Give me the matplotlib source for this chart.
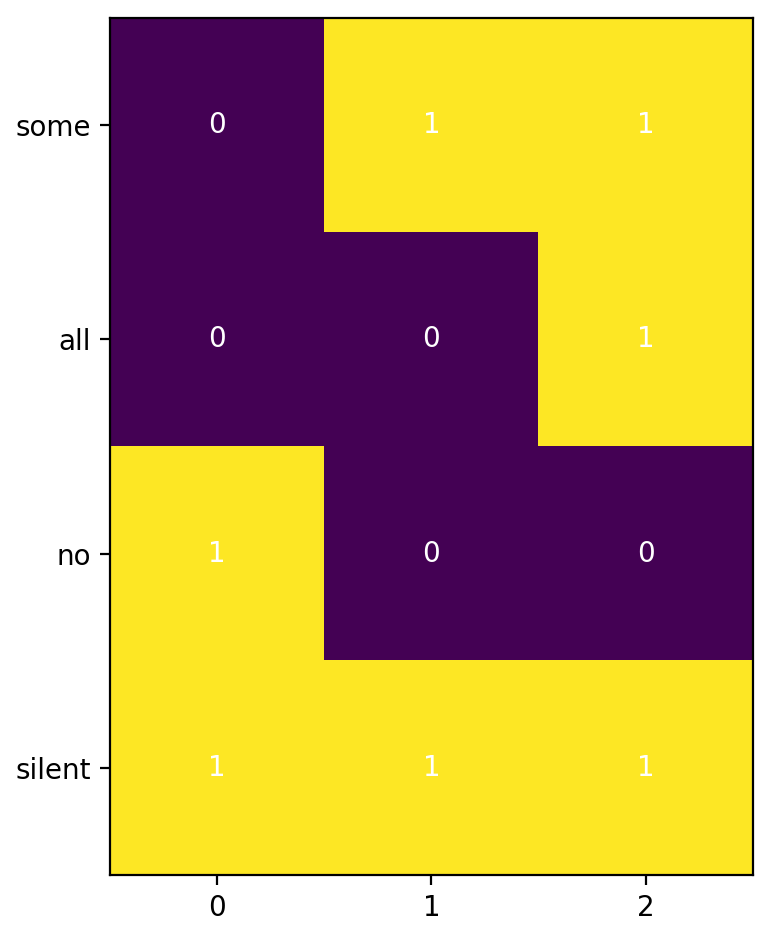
import matplotlib
matplotlib.use("Agg")
import matplotlib.pyplot as plt
import numpy as np

rows = ["some", "all", "no", "silent"]
cols = ["0", "1", "2"]
some = [0, 1, 1]
all_ = [0, 0, 1]
no = [1, 0, 0]
silent = [1, 1, 1]
values = np.array([some, all_, no, silent])

fig = plt.figure(figsize=(3.86, 4.70), dpi=200)
ax = fig.add_axes([110/772, (940-875)/940, 643/772, 857/940])
ax.imshow(values, cmap="viridis", aspect="auto")
ax.set_xticks(range(len(cols)))
ax.set_xticklabels(cols)
ax.set_yticks(range(len(rows)))
ax.set_yticklabels(rows)
for i in range(values.shape[0]):
    for j in range(values.shape[1]):
        ax.text(j, i, str(values[i, j]), ha="center", va="center", color="w")
fig.savefig("out.png", dpi=200)
